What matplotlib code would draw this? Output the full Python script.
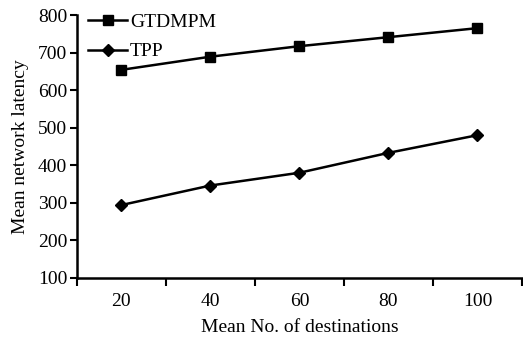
import matplotlib.pyplot as plt
import numpy as np

plt.rcParams['font.family'] = ['Liberation Serif', 'DejaVu Serif']

destinations = ["20", "40", "60", "80", "100"]
gtdmpm = [654, 689, 717, 741, 765]
tpp = [294, 346, 380, 433, 480]

x = np.arange(len(destinations))

fig = plt.figure(figsize=(5.23, 3.41), dpi=100)
ax = fig.add_axes([0.147, 0.185, 0.851, 0.771])

ax.plot(x, gtdmpm, color="black", lw=1.8, marker="s", ms=7, label="GTDMPM")
ax.plot(x, tpp, color="black", lw=1.8, marker="D", ms=6.5, label="TPP")

ax.set_xlim(-0.5, len(destinations) - 0.5)
ax.set_ylim(100, 800)
ax.set_yticks(range(100, 801, 100))
ax.set_xticks(x)
ax.set_xticklabels(destinations)
ax.tick_params(axis="x", which="major", length=0, pad=11, labelsize=14)
ax.set_xticks(np.arange(-0.5, len(destinations)), minor=True)
ax.tick_params(axis="x", which="minor", length=6, width=1.5, direction="out")
ax.tick_params(axis="y", length=5, width=1.5, labelsize=14, pad=2)

for side in ["top", "right"]:
    ax.spines[side].set_visible(False)
for side in ["left", "bottom"]:
    ax.spines[side].set_linewidth(1.8)

ax.set_xlabel("Mean No. of destinations", fontsize=14, labelpad=6)
ax.set_ylabel("Mean network latency", fontsize=14, labelpad=6)

ax.legend(loc="upper left", frameon=False, fontsize=14, handlelength=2.0,
          borderaxespad=0, bbox_to_anchor=(0.008, 1.035), labelspacing=0.6,
          handletextpad=0.15)

fig.savefig("out.png", dpi=100)
